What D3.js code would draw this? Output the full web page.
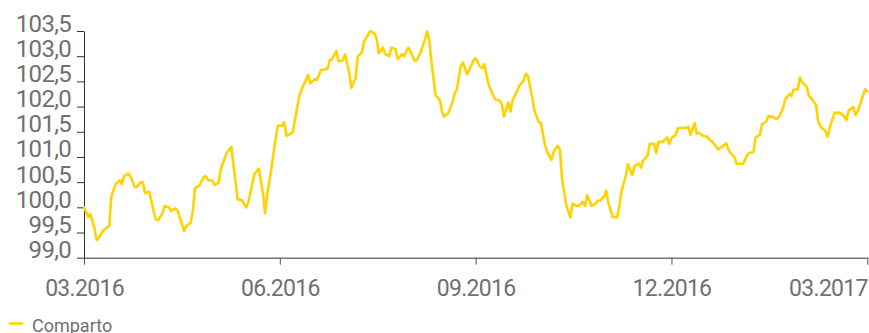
<!DOCTYPE html>
<html>
<head>
<meta charset="utf-8">
<script src="https://cdn.jsdelivr.net/npm/d3@7"></script>
<style>
  html, body { margin: 0; padding: 0; background: #fff; }
  svg { display: block; }
</style>
</head>
<body>
<svg id="chart" width="869" height="333"></svg>
<script>
// Fund performance series (index points)
const seriesName = "Comparto";

const dates = [
  "2016-03-01","2016-03-03","2016-03-04","2016-03-06","2016-03-07","2016-03-08","2016-03-10","2016-03-11","2016-03-13","2016-03-14","2016-03-16","2016-03-18","2016-03-19","2016-03-20","2016-03-22","2016-03-23","2016-03-25","2016-03-26","2016-03-28","2016-03-29","2016-03-30",
  "2016-04-01","2016-04-03","2016-04-04","2016-04-05","2016-04-07","2016-04-08","2016-04-10","2016-04-11","2016-04-13","2016-04-14","2016-04-15","2016-04-17","2016-04-18","2016-04-20","2016-04-21","2016-04-22","2016-04-24","2016-04-26","2016-04-27","2016-04-28","2016-04-30",
  "2016-05-01","2016-05-03","2016-05-04","2016-05-06","2016-05-07","2016-05-09","2016-05-10","2016-05-12","2016-05-14","2016-05-16","2016-05-17","2016-05-19","2016-05-20","2016-05-22","2016-05-24","2016-05-25","2016-05-26","2016-05-28","2016-05-29","2016-05-31",
  "2016-06-02","2016-06-03","2016-06-04","2016-06-06","2016-06-07","2016-06-08","2016-06-10","2016-06-11","2016-06-13","2016-06-14","2016-06-15","2016-06-17","2016-06-18","2016-06-20","2016-06-21","2016-06-23","2016-06-24","2016-06-25","2016-06-27","2016-06-28","2016-06-30",
  "2016-07-01","2016-07-03","2016-07-04","2016-07-06","2016-07-07","2016-07-09","2016-07-10","2016-07-12","2016-07-13","2016-07-15","2016-07-16","2016-07-17","2016-07-19","2016-07-20","2016-07-22","2016-07-23","2016-07-25","2016-07-26","2016-07-28","2016-07-29","2016-07-31",
  "2016-08-01","2016-08-03","2016-08-04","2016-08-06","2016-08-08","2016-08-09","2016-08-10","2016-08-11","2016-08-13","2016-08-15","2016-08-16","2016-08-17","2016-08-19","2016-08-21","2016-08-22","2016-08-23","2016-08-25","2016-08-26","2016-08-28","2016-08-29","2016-08-31",
  "2016-09-01","2016-09-03","2016-09-04","2016-09-05","2016-09-07","2016-09-09","2016-09-10","2016-09-12","2016-09-13","2016-09-14","2016-09-16","2016-09-17","2016-09-18","2016-09-20","2016-09-21","2016-09-23","2016-09-24","2016-09-25","2016-09-27","2016-09-28","2016-09-30",
  "2016-10-01","2016-10-03","2016-10-04","2016-10-06","2016-10-07","2016-10-09","2016-10-10","2016-10-11","2016-10-13","2016-10-15","2016-10-16","2016-10-18","2016-10-19","2016-10-21","2016-10-22","2016-10-23","2016-10-25","2016-10-27","2016-10-28","2016-10-29","2016-10-31",
  "2016-11-01","2016-11-02","2016-11-04","2016-11-06","2016-11-07","2016-11-08","2016-11-10","2016-11-11","2016-11-13","2016-11-14","2016-11-16","2016-11-17","2016-11-18","2016-11-20","2016-11-21","2016-11-23","2016-11-24","2016-11-25","2016-11-27","2016-11-29","2016-11-30",
  "2016-12-01","2016-12-03","2016-12-04","2016-12-06","2016-12-08","2016-12-09","2016-12-10","2016-12-12","2016-12-13","2016-12-14","2016-12-16","2016-12-18","2016-12-19","2016-12-20","2016-12-22","2016-12-23","2016-12-25","2016-12-27","2016-12-28","2016-12-29","2016-12-31",
  "2017-01-01","2017-01-03","2017-01-04","2017-01-06","2017-01-07","2017-01-09","2017-01-10","2017-01-12","2017-01-13","2017-01-15","2017-01-16","2017-01-18","2017-01-20","2017-01-21","2017-01-23","2017-01-24","2017-01-26","2017-01-27","2017-01-28","2017-01-30","2017-01-31",
  "2017-02-01","2017-02-03","2017-02-04","2017-02-05","2017-02-07","2017-02-08","2017-02-09","2017-02-11","2017-02-12","2017-02-13","2017-02-15","2017-02-16","2017-02-17","2017-02-19","2017-02-20","2017-02-21","2017-02-23","2017-02-24","2017-02-25","2017-02-27","2017-02-28",
  "2017-03-01"
];

const values = [
  100.00,99.81,99.87,99.58,99.35,99.40,99.53,99.57,99.63,100.22,100.46,100.54,100.46,100.62,100.67,100.62,100.41,100.40,100.50,100.49,100.28,
  100.31,99.93,99.76,99.74,99.88,100.02,100.00,99.93,99.98,99.93,99.80,99.53,99.63,99.69,99.91,100.38,100.43,100.60,100.62,100.54,100.53,
  100.44,100.49,100.77,100.99,101.10,101.20,100.84,100.16,100.14,100.00,100.09,100.48,100.66,100.77,100.28,99.88,100.24,100.77,101.07,101.62,
  101.62,101.69,101.42,101.46,101.50,101.75,102.22,102.33,102.53,102.63,102.46,102.54,102.53,102.73,102.73,102.75,102.92,102.94,103.10,102.90,102.92,
  103.04,102.66,102.37,102.57,102.99,103.08,103.29,103.43,103.50,103.45,103.34,103.06,103.17,103.04,103.00,103.17,103.14,102.94,103.04,103.00,103.17,
  103.10,102.91,102.92,103.09,103.34,103.49,103.32,102.89,102.22,102.13,101.90,101.80,101.87,102.08,102.26,102.33,102.81,102.87,102.64,102.73,102.92,
  102.96,102.79,102.76,102.84,102.43,102.23,102.14,102.12,102.05,101.80,102.08,101.90,102.13,102.30,102.41,102.51,102.65,102.61,102.18,101.92,101.69,
  101.68,101.22,101.10,100.94,101.10,101.22,101.15,100.58,100.05,99.80,100.07,100.03,100.03,100.11,100.03,100.24,100.03,100.08,100.13,100.13,100.21,
  100.33,100.09,99.81,99.80,100.01,100.31,100.62,100.86,100.64,100.82,100.87,100.79,100.93,101.02,101.26,101.26,101.08,101.30,101.30,101.39,101.26,
  101.37,101.44,101.57,101.58,101.57,101.60,101.44,101.67,101.46,101.48,101.42,101.40,101.35,101.32,101.22,101.15,101.20,101.27,101.15,101.08,100.99,
  100.86,100.87,100.86,101.04,101.08,101.10,101.39,101.44,101.65,101.70,101.81,101.80,101.75,101.79,101.97,102.14,102.25,102.21,102.34,102.34,102.58,
  102.49,102.39,102.21,102.16,102.03,101.70,101.60,101.52,101.40,101.60,101.88,101.87,101.88,101.81,101.73,101.92,101.99,101.83,101.92,102.20,102.34,
  102.30
];

const yTickValues = [99.0, 99.5, 100.0, 100.5, 101.0, 101.5, 102.0, 102.5, 103.0, 103.5];
const xTickDates = ["2016-03-01", "2016-06-01", "2016-09-01", "2016-12-01", "2017-03-01"];

const lineColor = "#FFD200";
const textColor = "#707070";
const axisColor = "#333333";

const parse = d3.timeParse("%Y-%m-%d");
const start = parse(xTickDates[0]);

// Position of a date in months since the first tick; every month gets equal width.
function monthIndex(dt) {
  const m = (dt.getFullYear() - start.getFullYear()) * 12 + dt.getMonth() - start.getMonth();
  const daysInMonth = new Date(dt.getFullYear(), dt.getMonth() + 1, 0).getDate();
  return m + (dt.getDate() - 1) / daysInMonth;
}

const n = Math.min(dates.length, values.length);
const data = d3.range(n).map(i => ({ t: monthIndex(parse(dates[i])), v: values[i] }));

const svg = d3.select("#chart");

const x = d3.scaleLinear()
  .domain([0, monthIndex(parse(xTickDates[xTickDates.length - 1]))])
  .range([84, 867.3]);

const y = d3.scaleLinear()
  .domain([99, 103.5])
  .range([257.7, 31]);

const fmtComma = d => d3.format(".1f")(d).replace(".", ",");
const fmtMonth = d3.timeFormat("%m.%Y");

// x axis
const gx = svg.append("g")
  .attr("transform", `translate(0,${y(99)})`)
  .call(d3.axisBottom(x)
    .tickValues(xTickDates.map(d => monthIndex(parse(d))))
    .tickSize(7)
    .tickSizeOuter(0)
    .tickFormat((d, i) => fmtMonth(parse(xTickDates[i]))));
gx.select(".domain").attr("stroke", axisColor);
gx.selectAll(".tick line").attr("stroke", "#555");
gx.selectAll(".tick text")
  .attr("y", 38)
  .attr("dy", 0)
  .attr("fill", textColor)
  .style("font-family", "Roboto, sans-serif")
  .style("font-size", "23px")
  .style("letter-spacing", "-0.7px")
  .attr("text-anchor", (d, i) => i === xTickDates.length - 1 ? "end" : "middle");

// y axis
const gy = svg.append("g")
  .attr("transform", `translate(${x(0)},0)`)
  .call(d3.axisLeft(y)
    .tickValues(yTickValues)
    .tickSize(7)
    .tickSizeOuter(0)
    .tickPadding(6)
    .tickFormat(fmtComma));
gy.select(".domain").attr("stroke", axisColor);
gy.selectAll(".tick line").attr("stroke", axisColor);
gy.selectAll(".tick text")
  .attr("dy", 0)
  .attr("fill", textColor)
  .style("font-family", "Roboto, sans-serif")
  .style("font-size", "24px")
  .style("letter-spacing", "-0.7px");

// series line
const line = d3.line()
  .x(d => x(d.t))
  .y(d => y(d.v));

svg.append("path")
  .datum(data)
  .attr("fill", "none")
  .attr("stroke", lineColor)
  .attr("stroke-width", 2.6)
  .attr("stroke-linejoin", "round")
  .attr("stroke-linecap", "round")
  .attr("d", line);

// legend
const legend = svg.append("g");
legend.append("line")
  .attr("x1", 9).attr("x2", 23)
  .attr("y1", 323.5).attr("y2", 323.5)
  .attr("stroke", lineColor)
  .attr("stroke-width", 2.5);
legend.append("text")
  .attr("x", 32)
  .attr("y", 331.7)
  .attr("fill", textColor)
  .style("font-family", "Roboto, sans-serif")
  .style("font-size", "18px")
  .text(seriesName);
</script>
</body>
</html>
